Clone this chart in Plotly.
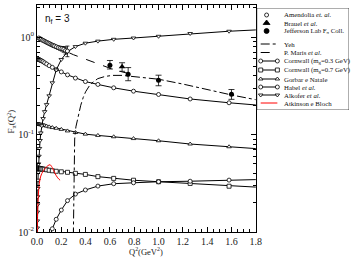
import plotly.graph_objects as go

# ---------------- data ----------------
Q2_GRID = [0.001, 0.00126, 0.00158, 0.002, 0.00251, 0.00316, 0.00398, 0.00501, 0.00631, 0.00794,
           0.01, 0.0126, 0.0158, 0.02, 0.0251, 0.0316, 0.0398, 0.0501, 0.0631, 0.0794,
           0.1, 0.126, 0.158, 0.2, 0.251, 0.316, 0.398, 0.501, 0.631, 0.794,
           1.0, 1.26, 1.58, 2.0]

cornwall03 = [0.60, 0.60, 0.60, 0.60, 0.60, 0.60, 0.60, 0.60, 0.598, 0.597,
              0.595, 0.592, 0.59, 0.585, 0.58, 0.575, 0.57, 0.56, 0.545, 0.53,
              0.51, 0.49, 0.465, 0.44, 0.41, 0.38, 0.35, 0.327, 0.302, 0.279,
              0.258, 0.232, 0.212, 0.192]

gorbar = [0.128, 0.128, 0.128, 0.128, 0.128, 0.128, 0.128, 0.128, 0.128, 0.128,
          0.128, 0.128, 0.128, 0.127, 0.127, 0.126, 0.126, 0.125, 0.124, 0.122,
          0.12, 0.118, 0.116, 0.113, 0.109, 0.105, 0.101, 0.098, 0.095, 0.091,
          0.0864, 0.080, 0.075, 0.069]

cornwall07 = [0.045, 0.045, 0.045, 0.045, 0.045, 0.045, 0.045, 0.045, 0.045, 0.045,
              0.045, 0.045, 0.045, 0.0448, 0.0447, 0.0445, 0.0443, 0.0442, 0.044, 0.0435,
              0.043, 0.0425, 0.042, 0.0415, 0.041, 0.040, 0.039, 0.037, 0.0355, 0.034,
              0.0328, 0.0315, 0.0295, 0.028]

habel = [None, None, None, None, None, None, None, None, None, None,
         None, None, None, None, None, None, None, None, None, 0.0065,
         0.0085, 0.0108, 0.0135, 0.0168, 0.021, 0.0245, 0.027, 0.0296, 0.0313, 0.032,
         0.0328, 0.0332, 0.0341, 0.035]

alkofer = [0.006, 0.0075, 0.009, 0.011, 0.013, 0.016, 0.019, 0.023, 0.028, 0.034,
           0.041, 0.050, 0.060, 0.072, 0.087, 0.104, 0.123, 0.146, 0.172, 0.203,
           0.25, 0.34, 0.46, 0.59, 0.71, 0.80, 0.867, 0.91, 0.95, 0.98,
           1.02, 1.09, 1.15, 1.22]

yeh_q2 = [0.299, 0.302, 0.305, 0.31, 0.32, 0.34, 0.36, 0.38, 0.40, 0.44, 0.50, 0.56,
          0.62, 0.70, 0.80, 1.0, 1.2, 1.4, 1.6, 1.8]
yeh_f = [0.009, 0.03, 0.06, 0.09, 0.12, 0.16, 0.20, 0.24, 0.275, 0.33, 0.375, 0.395,
         0.405, 0.405, 0.395, 0.37, 0.33, 0.29, 0.255, 0.228]

maris_q2 = [0.0, 0.1, 0.2, 0.3, 0.4, 0.5, 0.6, 0.7, 0.8]
maris_f = [1.0, 0.86, 0.75, 0.66, 0.59, 0.53, 0.48, 0.44, 0.41]

atkinson_q2 = [0.001, 0.004, 0.008, 0.015, 0.025, 0.04, 0.067, 0.09, 0.107, 0.125, 0.148, 0.17, 0.19]
atkinson_f = [0.009, 0.014, 0.02, 0.028, 0.035, 0.040, 0.045, 0.048, 0.049, 0.046, 0.040, 0.036, 0.034]

amend_q2 = [0.015, 0.025, 0.035, 0.045, 0.055, 0.065, 0.075, 0.085, 0.095, 0.105, 0.115,
            0.125, 0.135, 0.145, 0.16, 0.175, 0.19, 0.205, 0.22, 0.235, 0.25]
amend_f = [0.98, 0.96, 0.95, 0.93, 0.92, 0.905, 0.89, 0.88, 0.865, 0.855, 0.84,
           0.83, 0.82, 0.81, 0.795, 0.78, 0.77, 0.76, 0.75, 0.73, 0.72]
amend_err = [0.01, 0.01, 0.01, 0.012, 0.012, 0.014, 0.014, 0.016, 0.016, 0.018, 0.02,
             0.02, 0.022, 0.024, 0.026, 0.03, 0.035, 0.04, 0.05, 0.06, 0.09]

brauel_q2 = [0.70]
brauel_f = [0.496]
brauel_err = [0.05]

jlab_q2 = [0.60, 0.75, 1.00, 1.60]
jlab_f = [0.516, 0.417, 0.362, 0.26]
jlab_err_up = [0.06, 0.07, 0.045, 0.03]
jlab_err_dn = [0.045, 0.06, 0.045, 0.03]

x_ticks = [0.0, 0.2, 0.4, 0.6, 0.8, 1.0, 1.2, 1.4, 1.6, 1.8]
y_ticks = [0.01, 0.1, 1.0]
y_ticktext = ["10<sup>-2</sup>", "10<sup>-1</sup>", "10<sup>0</sup>"]
y_minor = [0.02, 0.03, 0.04, 0.05, 0.06, 0.07, 0.08, 0.09,
           0.2, 0.3, 0.4, 0.5, 0.6, 0.7, 0.8, 0.9, 2.0]

legend_labels = ["Amendolia <i>et. al.</i>", "Brauel <i>et al.</i>", "Jefferson Lab F<sub>π</sub> Coll.",
                 "Yeh", "P. Maris <i>et al.</i>", "Cornwall (m<sub>g</sub>=0.3 GeV)",
                 "Cornwall (m<sub>g</sub>=0.7 GeV)", "Gorbar e Natale", "Habel <i>et al.</i>",
                 "Alkofer <i>et al.</i>", "Atkinson e Bloch"]

# ---------------- figure ----------------
W, H = 356, 257
ML, MR, MT, MB = 37, 1, 5, 25
PW, PH = W - ML - MR, H - MT - MB
def px_x(p):
    return (p - ML) / PW
def px_y(p):
    return (H - MB - p) / PH

SERIF = "Liberation Serif"
BLK = "black"
fig = go.Figure()

def curve(x, y, symbol, name):
    fig.add_trace(go.Scatter(x=x, y=y, mode="lines+markers", name=name, showlegend=False,
                             line=dict(color=BLK, width=1), connectgaps=False,
                             marker=dict(symbol=symbol, size=4, color="white",
                                         line=dict(color=BLK, width=0.8))))

curve(Q2_GRID, cornwall03, "circle", "Cornwall 0.3")
curve(Q2_GRID, gorbar, "triangle-up", "Gorbar")
curve(Q2_GRID, cornwall07, "square", "Cornwall 0.7")
curve(Q2_GRID, habel, "circle", "Habel")
curve(Q2_GRID, alkofer, "triangle-down", "Alkofer")

fig.add_trace(go.Scatter(x=yeh_q2, y=yeh_f, mode="lines", showlegend=False,
                         line=dict(color=BLK, width=1, dash="dashdot")))
fig.add_trace(go.Scatter(x=maris_q2, y=maris_f, mode="lines", showlegend=False,
                         line=dict(color=BLK, width=1, dash="dash")))
fig.add_trace(go.Scatter(x=atkinson_q2, y=atkinson_f, mode="lines", showlegend=False,
                         line=dict(color="red", width=1, shape="spline")))

fig.add_trace(go.Scatter(x=amend_q2, y=amend_f, mode="markers", showlegend=False,
                         error_y=dict(type="data", array=amend_err, color=BLK, thickness=0.8, width=2),
                         marker=dict(symbol="circle", size=4, color="white", line=dict(color=BLK, width=0.8))))
fig.add_trace(go.Scatter(x=brauel_q2, y=brauel_f, mode="markers", showlegend=False,
                         error_y=dict(type="data", array=brauel_err, color=BLK, thickness=0.8, width=3),
                         marker=dict(symbol="triangle-up", size=6, color=BLK)))
fig.add_trace(go.Scatter(x=jlab_q2, y=jlab_f, mode="markers", showlegend=False,
                         error_y=dict(type="data", array=jlab_err_up, arrayminus=jlab_err_dn,
                                      color=BLK, thickness=0.8, width=3),
                         marker=dict(symbol="circle", size=5, color=BLK)))

# ---- legend (drawn on a helper axis in pixel units) ----
LX0, LX1, LY0, LY1 = 261, 355, 8, 110
row_y = [15, 23, 31, 44, 52.5, 61, 70, 79, 87, 95, 103]
sym_x = 271
seg = [265, 282]
def leg_marker(y, symbol, filled, size=4):
    fig.add_trace(go.Scatter(x=[sym_x], y=[y], xaxis="x2", yaxis="y2", mode="markers", showlegend=False,
                             hoverinfo="skip",
                             marker=dict(symbol=symbol, size=size, color=BLK if filled else "white",
                                         line=dict(color=BLK, width=0.8))))
def leg_line(y, dash="solid", color=BLK, symbol=None):
    fig.add_trace(go.Scatter(x=seg, y=[y, y], xaxis="x2", yaxis="y2",
                             mode="lines+markers" if symbol else "lines", showlegend=False,
                             hoverinfo="skip", line=dict(color=color, width=1, dash=dash),
                             marker=dict(symbol=symbol or "circle", size=4, color="white",
                                         line=dict(color=BLK, width=0.8))))
leg_marker(row_y[0], "circle", False)
leg_marker(row_y[1], "triangle-up", True, 6)
leg_marker(row_y[2], "circle", True, 5)
leg_line(row_y[3], dash="dashdot")
leg_line(row_y[4], dash="dash")
leg_line(row_y[5], symbol="circle")
leg_line(row_y[6], symbol="square")
leg_line(row_y[7], symbol="triangle-up")
leg_line(row_y[8], symbol="circle")
leg_line(row_y[9], symbol="triangle-down")
leg_line(row_y[10], color="red")

annotations = []
for lab, y in zip(legend_labels, row_y):
    annotations.append(dict(x=287, y=y, xref="x2", yref="y2", text=lab, showarrow=False,
                            xanchor="left", yanchor="middle",
                            font=dict(family=SERIF, size=6.8, color="#111")))
annotations.append(dict(x=0.02, y=0.975, xref="paper", yref="paper", text="n<sub>f</sub> = 3",
                        showarrow=False, xanchor="left", yanchor="top",
                        font=dict(family="Liberation Sans", size=10, color="#111")))
# axis titles as annotations (pixel placement)
annotations.append(dict(x=px_x(148), y=px_y(251.5), xref="paper", yref="paper",
                        text="Q<sup>2</sup>(GeV<sup>2</sup>)", showarrow=False,
                        xanchor="center", yanchor="middle",
                        font=dict(family=SERIF, size=8.5, color="#222")))
annotations.append(dict(x=px_x(10), y=px_y(122), xref="paper", yref="paper",
                        text="F<sub>π</sub>(Q<sup>2</sup>)", showarrow=False, textangle=-90,
                        xanchor="center", yanchor="middle",
                        font=dict(family=SERIF, size=9, color="#222")))

shapes = [dict(type="rect", xref="x2", yref="y2", x0=LX0, x1=LX1, y0=LY0, y1=LY1,
               line=dict(color="#333", width=0.8))]

x_dom_end = px_x(260)
fig.update_layout(
    width=W, height=H, margin=dict(l=ML, r=MR, t=MT, b=MB),
    paper_bgcolor="white", plot_bgcolor="white",
    annotations=annotations, shapes=shapes,
    xaxis=dict(domain=[0, x_dom_end], range=[0, 1.8], tickvals=x_ticks, tickformat=".1f",
               ticks="inside", ticklen=5, tickwidth=0.8, tickcolor=BLK,
               showline=True, linecolor=BLK, linewidth=1, mirror="allticks", showgrid=False,
               zeroline=False, tickfont=dict(family=SERIF, size=10, color="#222"),
               minor=dict(dtick=0.05, ticks="inside", ticklen=3, tickwidth=0.8, tickcolor=BLK, showgrid=False)),
    yaxis=dict(type="log", range=[-2, 0.33], tickvals=y_ticks, ticktext=y_ticktext,
               ticks="inside", ticklen=5, tickwidth=0.8, tickcolor=BLK,
               showline=True, linecolor=BLK, linewidth=1, mirror="allticks", showgrid=False,
               zeroline=False, tickfont=dict(family=SERIF, size=10, color="#222"),
               minor=dict(tickvals=y_minor, ticks="inside", ticklen=3, tickwidth=0.8, tickcolor=BLK, showgrid=False)),
    xaxis2=dict(domain=[px_x(LX0), px_x(LX1)], range=[LX0, LX1], visible=False, fixedrange=True),
    yaxis2=dict(domain=[px_y(LY1), px_y(LY0)], range=[LY1, LY0], visible=False, fixedrange=True),
)

fig.write_html("out.html")
